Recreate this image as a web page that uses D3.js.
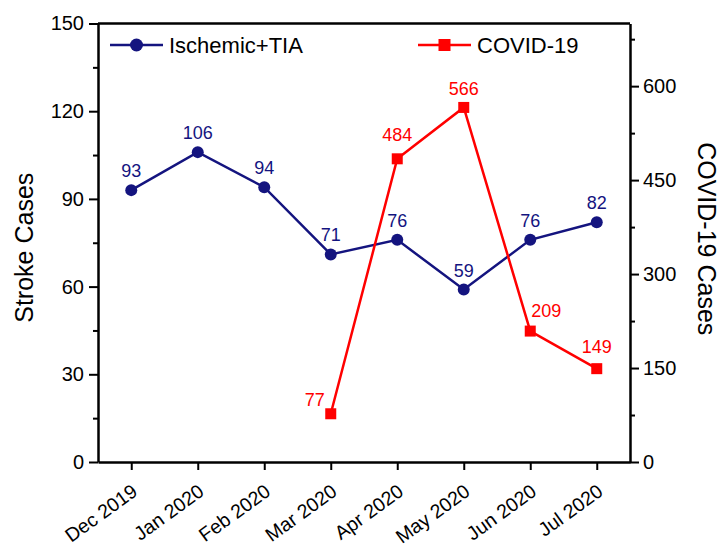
<!DOCTYPE html>
<html>
<head>
<meta charset="utf-8">
<script src="https://cdn.jsdelivr.net/npm/d3@7"></script>
<style>
  body { margin: 0; background: #fff; }
  text { font-family: "Liberation Sans", Arial, sans-serif; }
</style>
</head>
<body>
<svg id="chart" width="720" height="548"></svg>
<script>
// data
var months = ["Dec 2019", "Jan 2020", "Feb 2020", "Mar 2020", "Apr 2020", "May 2020", "Jun 2020", "Jul 2020"];
var stroke = [93, 106, 94, 71, 76, 59, 76, 82];
var covidMonths = ["Mar 2020", "Apr 2020", "May 2020", "Jun 2020", "Jul 2020"];
var covid = [77, 484, 566, 209, 149];
var leftTicks = [0, 30, 60, 90, 120, 150];
var rightTicks = [0, 150, 300, 450, 600];

var navy = "#14147f", red = "#ff0000";
var margin = { top: 23.5, right: 90, bottom: 86, left: 98 };
var width = 720 - margin.left - margin.right;
var height = 548 - margin.top - margin.bottom;

var svg = d3.select("#chart")
  .append("g")
  .attr("transform", "translate(" + margin.left + "," + margin.top + ")");

var x = d3.scalePoint().domain(months).range([0, width]).padding(0.5);
var y = d3.scaleLinear().domain([0, 150]).range([height, 0]);
var y2 = d3.scaleLinear().domain([0, 700]).range([height, 0]);

// minor ticks first
svg.append("g")
  .call(d3.axisLeft(y).tickValues(d3.range(15, 150, 30)).tickSize(5).tickFormat(""))
  .call(function(g) { g.select(".domain").remove(); });
svg.append("g")
  .attr("transform", "translate(" + width + ",0)")
  .call(d3.axisRight(y2).tickValues(d3.range(75, 700, 150)).tickSize(5).tickFormat(""))
  .call(function(g) { g.select(".domain").remove(); });

// axes
var yAxis = svg.append("g")
  .call(d3.axisLeft(y).tickValues(leftTicks).tickSize(9).tickPadding(5).tickSizeOuter(0));
var y2Axis = svg.append("g")
  .attr("transform", "translate(" + width + ",0)")
  .call(d3.axisRight(y2).tickValues(rightTicks).tickSize(9).tickPadding(4).tickSizeOuter(0));
var xAxis = svg.append("g")
  .attr("transform", "translate(0," + height + ")")
  .call(d3.axisBottom(x).tickSize(8).tickSizeOuter(0));
svg.append("line")
  .attr("x1", 0).attr("x2", width).attr("y1", 0).attr("y2", 0)
  .attr("stroke", "#000").attr("stroke-width", 2.5);

svg.selectAll(".domain").attr("stroke-width", 2.5);
svg.selectAll(".tick line").attr("stroke-width", 2);
yAxis.selectAll("text").style("font-size", "20px").attr("fill", "#000");
y2Axis.selectAll("text").style("font-size", "20px").attr("fill", "#000");
xAxis.selectAll("text")
  .style("font-size", "19.5px")
  .attr("fill", "#000")
  .style("text-anchor", "end")
  .attr("x", 0).attr("y", 0).attr("dy", 0)
  .attr("transform", "translate(7,32) rotate(-36)");

// axis titles
svg.append("text")
  .attr("transform", "translate(-65," + (height / 2 + 5) + ") rotate(-90)")
  .attr("text-anchor", "middle")
  .style("font-size", "25px")
  .text("Stroke Cases");
svg.append("text")
  .attr("transform", "translate(" + (width + 68) + "," + (height / 2 - 4) + ") rotate(90)")
  .attr("text-anchor", "middle")
  .style("font-size", "25px")
  .text("COVID-19 Cases");

// stroke line
var strokeLine = d3.line()
  .x(function(d, i) { return x(months[i]); })
  .y(function(d) { return y(d); });
svg.append("path")
  .datum(stroke)
  .attr("d", strokeLine)
  .attr("fill", "none")
  .attr("stroke", navy)
  .attr("stroke-width", 2.5);
svg.selectAll(".dot")
  .data(stroke)
  .enter()
  .append("circle")
  .attr("cx", function(d, i) { return x(months[i]); })
  .attr("cy", function(d) { return y(d); })
  .attr("r", 6)
  .attr("fill", navy);
svg.selectAll(".slabel")
  .data(stroke)
  .enter()
  .append("text")
  .attr("x", function(d, i) { return x(months[i]); })
  .attr("y", function(d) { return y(d) - 13; })
  .attr("text-anchor", "middle")
  .attr("fill", navy)
  .style("font-size", "18px")
  .text(function(d) { return d; });

// covid line
var covidLine = d3.line()
  .x(function(d, i) { return x(covidMonths[i]); })
  .y(function(d) { return y2(d); });
svg.append("path")
  .datum(covid)
  .attr("d", covidLine)
  .attr("fill", "none")
  .attr("stroke", red)
  .attr("stroke-width", 2.5);
svg.selectAll(".sq")
  .data(covid)
  .enter()
  .append("rect")
  .attr("x", function(d, i) { return x(covidMonths[i]) - 5.5; })
  .attr("y", function(d) { return y2(d) - 5.5; })
  .attr("width", 11)
  .attr("height", 11)
  .attr("fill", red);
// label offsets: first to the left, fourth to the upper right, rest above
var offs = [[-6, -8, "end"], [0, -18, "middle"], [0, -12, "middle"], [1, -14, "start"], [0, -16, "middle"]];
svg.selectAll(".clabel")
  .data(covid)
  .enter()
  .append("text")
  .attr("x", function(d, i) { return x(covidMonths[i]) + offs[i][0]; })
  .attr("y", function(d, i) { return y2(d) + offs[i][1]; })
  .attr("text-anchor", function(d, i) { return offs[i][2]; })
  .attr("fill", red)
  .style("font-size", "18px")
  .text(function(d) { return d; });

// legend
var legend = svg.append("g");
var items = [
  { name: "Ischemic+TIA", color: navy, shape: "circle", x: 12 },
  { name: "COVID-19", color: red, shape: "square", x: 320 }
];
items.forEach(function(it) {
  var g = legend.append("g").attr("transform", "translate(" + it.x + ",21.5)");
  g.append("line").attr("x1", 0).attr("x2", 53).attr("stroke", it.color).attr("stroke-width", 2.5);
  if (it.shape === "circle") {
    g.append("circle").attr("cx", 26.5).attr("r", 6.5).attr("fill", it.color);
  } else {
    g.append("rect").attr("x", 20.5).attr("y", -6).attr("width", 12).attr("height", 12).attr("fill", it.color);
  }
  g.append("text").attr("x", 59).attr("dy", "0.35em").style("font-size", "22px").text(it.name);
});
</script>
</body>
</html>
